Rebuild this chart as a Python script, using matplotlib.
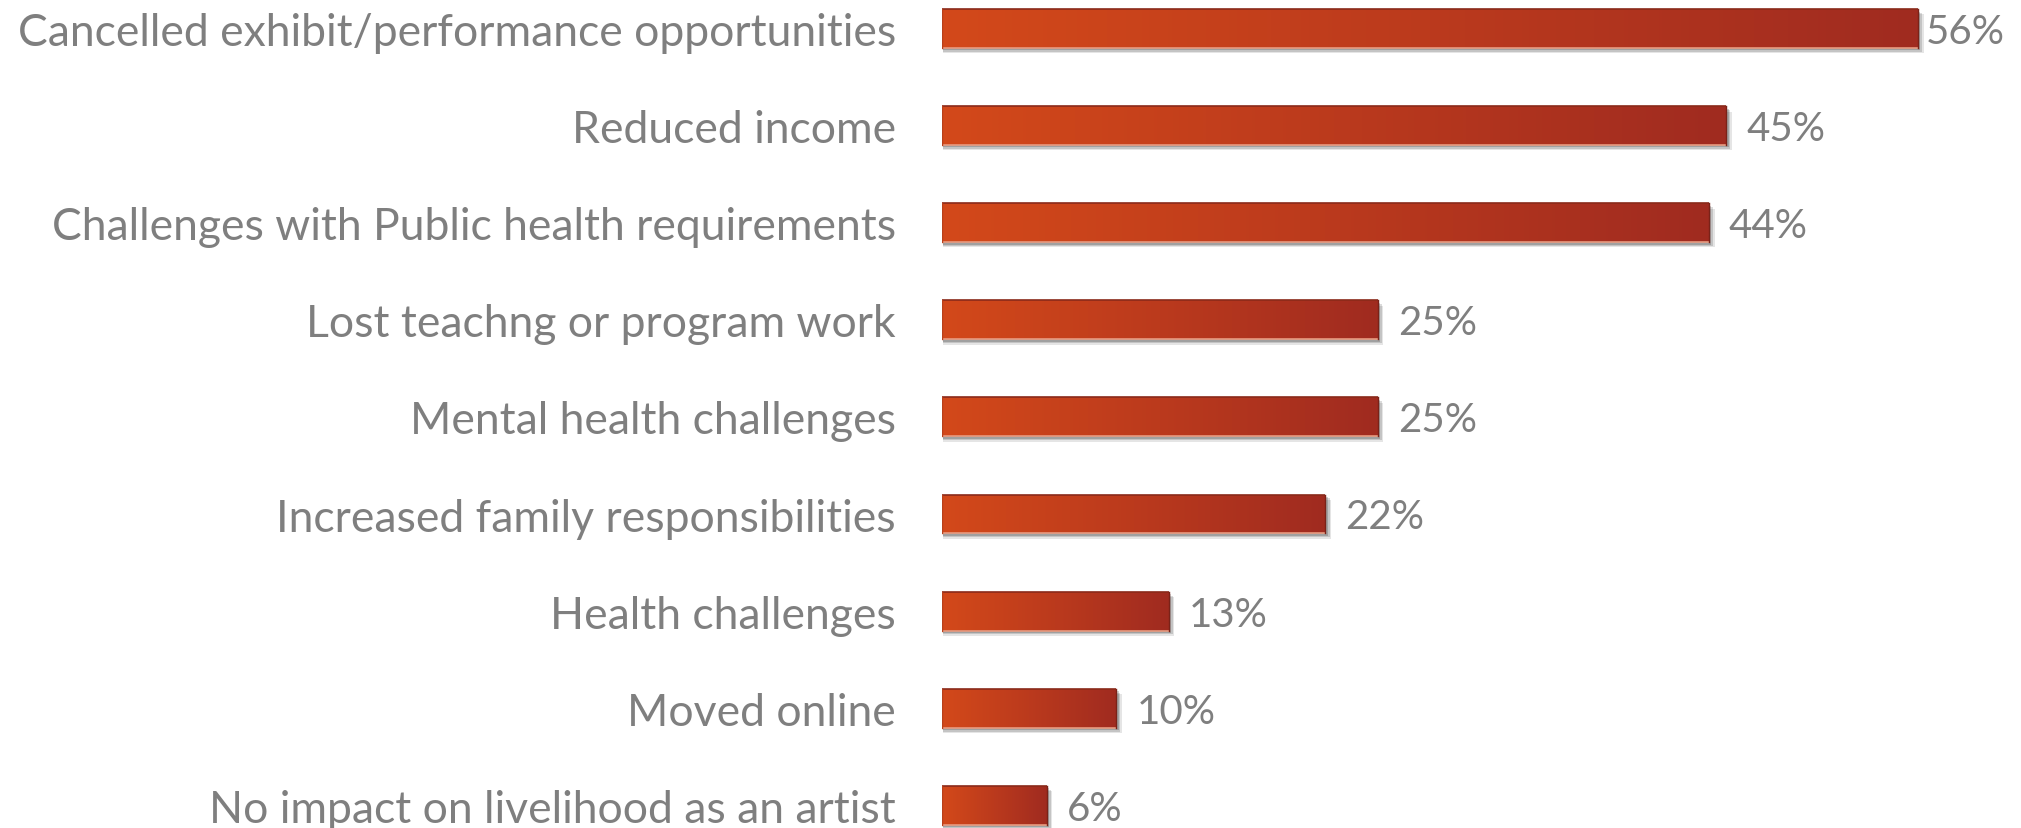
import matplotlib
matplotlib.use("Agg")
import matplotlib.pyplot as plt
import numpy as np
from matplotlib.patches import Rectangle
from matplotlib.colors import LinearSegmentedColormap

categories = [
    "Cancelled exhibit/performance opportunities",
    "Reduced income",
    "Challenges with Public health requirements",
    "Lost teachng or program work",
    "Mental health challenges",
    "Increased family responsibilities",
    "Health challenges",
    "Moved online",
    "No impact on livelihood as an artist",
]
values = [56, 45, 44, 25, 25, 22, 13, 10, 6]
value_labels = ["56%", "45%", "44%", "25%", "25%", "22%", "13%", "10%", "6%"]

W, H = 2021, 829
fig = plt.figure(figsize=(W / 100, H / 100), dpi=100)
fig.patch.set_facecolor("white")

ax_left = 942 / W
px_per_pct = 17.43
xmax = 60
ax = fig.add_axes([ax_left, 0, xmax * px_per_pct / W, 1])
ax.set_xlim(0, xmax)
step = 97.1
top_c = 29.5
ax.set_ylim((H - top_c) / step, -top_c / step)
ax.axis("off")

bar_h = 0.40
cmap = LinearSegmentedColormap.from_list("g", ["#D3491A", "#BB3A1D", "#A02B20"])
grad = np.linspace(0, 1, 256).reshape(1, -1)
text_color = "#7F7F7F"
font = "Lato"
renderer = fig.canvas.get_renderer()
right_limit_px = 2005

for i, (v, lab, vl) in enumerate(zip(values, categories, value_labels)):
    y0 = i - bar_h / 2
    # drop shadow
    for dx, dy, a in [(0.25, 0.055, 0.10), (0.18, 0.04, 0.14), (0.1, 0.025, 0.18)]:
        ax.add_patch(Rectangle((dx * 0.3, y0 + dy), v + dx, bar_h, facecolor="#000000",
                               edgecolor="none", alpha=a, zorder=1))
    im = ax.imshow(grad, extent=(0, v, y0 + bar_h, y0), cmap=cmap, aspect="auto",
                   zorder=2, interpolation="bilinear")
    rect = Rectangle((0, y0), v, bar_h, facecolor="none", edgecolor="none", zorder=2)
    ax.add_patch(rect)
    im.set_clip_path(rect)
    # edges
    ax.plot([0, v], [y0, y0], color="#8A2A1A", lw=1.2, zorder=3, solid_capstyle="butt")
    ax.plot([0, v], [y0 + bar_h, y0 + bar_h], color="#E89A80", lw=1.2, zorder=3, solid_capstyle="butt")
    ax.plot([v, v], [y0, y0 + bar_h], color="#7A2218", lw=1.0, zorder=3)
    ax.plot([0, 0], [y0, y0 + bar_h], color="#B8401A", lw=1.0, zorder=3)
    t = ax.text(v + 20 / px_per_pct, i + 0.03, vl, ha="left", va="center", color=text_color,
                fontsize=29, family=font, zorder=4)
    bb = t.get_window_extent(renderer=renderer)
    if bb.x1 > right_limit_px:
        t.set_position((v + 20 / px_per_pct - (bb.x1 - right_limit_px) / px_per_pct, i + 0.03))
    fig.text(896 / W, 1 - (top_c + 4 + step * i) / H, lab, ha="right", va="center",
             color=text_color, fontsize=32, family=font)

fig.savefig("out.png", dpi=100, facecolor="white")
